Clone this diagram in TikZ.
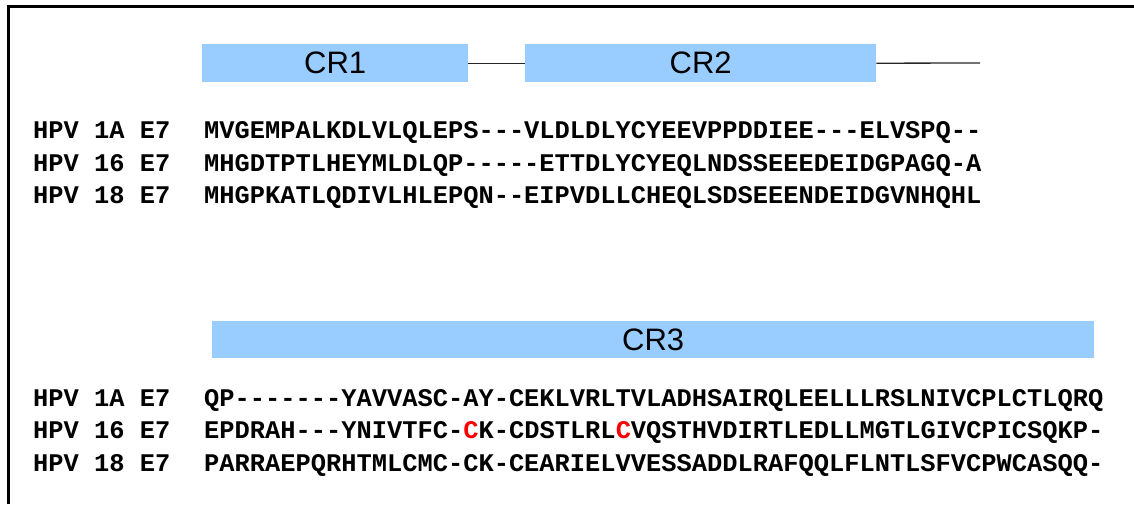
\documentclass[tikz,border=0pt]{standalone}
\usepackage{fontspec}
\setmainfont{Liberation Sans}
\setmonofont{Liberation Mono}
\definecolor{crblue}{HTML}{99CCFF}
\begin{document}
\begin{tikzpicture}[x=1pt,y=-1pt,
  crbox/.style={fill=crblue, draw=none, inner sep=0pt, anchor=north west, font=\fontsize{31}{34}\selectfont},
  seq/.style={anchor=base west, inner sep=0pt, font=\ttfamily\bfseries\fontsize{25.4}{30}\selectfont},
  link/.style={line width=1.3pt, draw=black!85}]
\useasboundingbox (0,0) rectangle (1134,504);
\draw[line width=3pt] (8,504) -- (8,6) -- (1134,6);
% top CR boxes
\node[crbox, minimum width=266pt, minimum height=38pt] (cr1) at (202,44) {CR1};
\node[crbox, minimum width=351pt, minimum height=38pt] (cr2) at (525,44) {CR2};
\coordinate (cr2end) at (980,63);
\draw[link] (cr1.east) -- (cr2.west);
\draw[link] (cr2.east) -- (cr2end);
% top alignment
\node[seq] (l1) at (33,138.5) {HPV 1A E7};
\node[seq] (l2) at (33,171.5) {HPV 16 E7};
\node[seq] (l3) at (33,203.5) {HPV 18 E7};
\node[seq] (s1) at (204,138.5) {MVGEMPALKDLVLQLEPS---VLDLDLYCYEEVPPDDIEE---ELVSPQ--};
\node[seq] (s2) at (204,171.5) {MHGDTPTLHEYMLDLQP-----ETTDLYCYEQLNDSSEEEDEIDGPAGQ-A};
\node[seq] (s3) at (204,203.5) {MHGPKATLQDIVLHLEPQN--EIPVDLLCHEQLSDSEEENDEIDGVNHQHL};
% CR3
\node[crbox, minimum width=882pt, minimum height=37pt] (cr3) at (212,321) {CR3};
% bottom alignment
\node[seq] (l4) at (33,406) {HPV 1A E7};
\node[seq] (l5) at (33,438.5) {HPV 16 E7};
\node[seq] (l6) at (33,471) {HPV 18 E7};
\node[seq] (s4) at (204,406) {QP-------YAVVASC-AY-CEKLVRLTVLADHSAIRQLEELLLRSLNIVCPLCTLQRQ};
\node[seq] (s5) at (204,438.5) {EPDRAH---YNIVTFC-\textcolor{red}{C}K-CDSTLRL\textcolor{red}{C}VQSTHVDIRTLEDLLMGTLGIVCPICSQKP-};
\node[seq] (s6) at (204,471) {PARRAEPQRHTMLCMC-CK-CEARIELVVESSADDLRAFQQLFLNTLSFVCPWCASQQ-};
\end{tikzpicture}
\end{document}
